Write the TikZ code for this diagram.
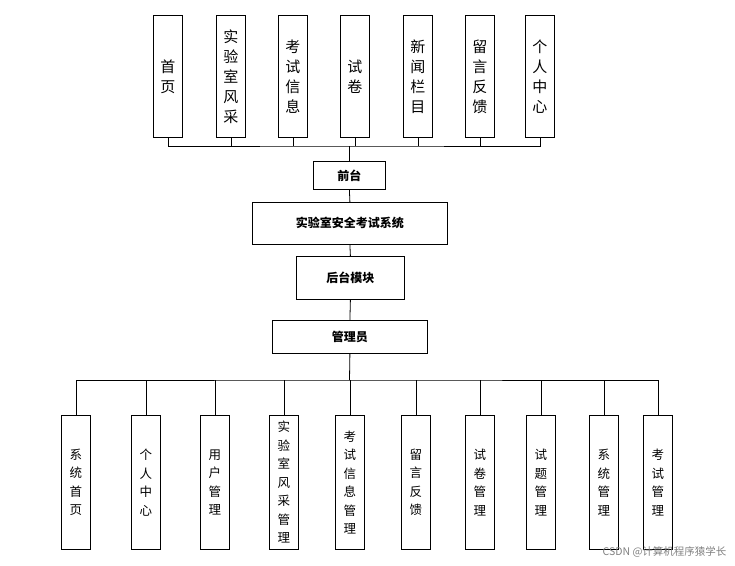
\documentclass[tikz,border=0pt]{standalone}
\usepackage{fontspec}
\newfontfamily\cjk{Noto Sans CJK SC}
\begin{document}
\begin{tikzpicture}[x=1pt,y=-1pt,
  box/.style={draw,line width=0.8pt,inner sep=0pt,anchor=north west},
  tl/.style={font=\cjk\fontsize{15}{20}\selectfont,align=center},
  bl/.style={font=\cjk\fontsize{12.5}{18.5}\selectfont,align=center},
  ml/.style={font=\cjk\bfseries\fontsize{12}{14}\selectfont},
  ln/.style={line width=0.8pt}]
\useasboundingbox (0,0) rectangle (735,565);
% top boxes
\foreach \n/\x/\t in {t1/153/首\\页, t2/216/实\\验\\室\\风\\采, t3/278/考\\试\\信\\息, t4/340/试\\卷, t5/403/新\\闻\\栏\\目, t6/465/留\\言\\反\\馈, t7/525/个\\人\\中\\心}{
  \node[box,minimum width=29pt,minimum height=122pt] (\n) at (\x,15) {};
  \node[tl] at (\n.center) {\t};
}
\node[box,minimum width=72pt,minimum height=28pt,ml] (qt) at (313,161) {前台};
\node[box,minimum width=195pt,minimum height=42pt,ml] (sys) at (252,202) {实验室安全考试系统};
\node[box,minimum width=108pt,minimum height=43pt,ml] (ht) at (296,256) {后台模块};
\node[box,minimum width=155pt,minimum height=33pt,ml] (gl) at (272,320) {管理员};
\foreach \n/\x/\t in {b1/61/系\\统\\首\\页, b2/131/个\\人\\中\\心, b3/200/用\\户\\管\\理, b4/269/实\\验\\室\\风\\采\\管\\理, b5/335/考\\试\\信\\息\\管\\理, b6/401/留\\言\\反\\馈, b7/465/试\\卷\\管\\理, b8/526/试\\题\\管\\理, b9/589/系\\统\\管\\理, b10/643/考\\试\\管\\理}{
  \node[box,minimum width=29pt,minimum height=134pt] (\n) at (\x,415) {};
  \node[bl] at (\n.center) {\t};
}
\coordinate (tb) at (349.5,146);
\draw[ln] (t1.south) |- (tb) -| (t7.south);
\foreach \n in {t2,t3,t4,t5,t6}{\draw[ln] (\n.south) -- (\n.south |- tb);}
\draw[ln] (tb) -- (qt.north);
\draw[ln] (qt.south) -- (sys.north);
\draw[ln] (sys.south) -- (ht.north);
\draw[ln] (ht.south) -- (gl.north);
\coordinate (bb) at (349.5,380);
\draw[ln] (gl.south) -- (bb);
\draw[ln] (b1.north) |- (bb) -| (b10.north);
\foreach \n in {b2,b3,b4,b5,b6,b7,b8,b9}{\draw[ln] (\n.north) -- (\n.north |- bb);}
\node[font=\cjk\fontsize{10.5}{12}\selectfont,text=gray,anchor=east] (wm) at (730,552) {CSDN @计算机程序猿学长};
\end{tikzpicture}
\end{document}
